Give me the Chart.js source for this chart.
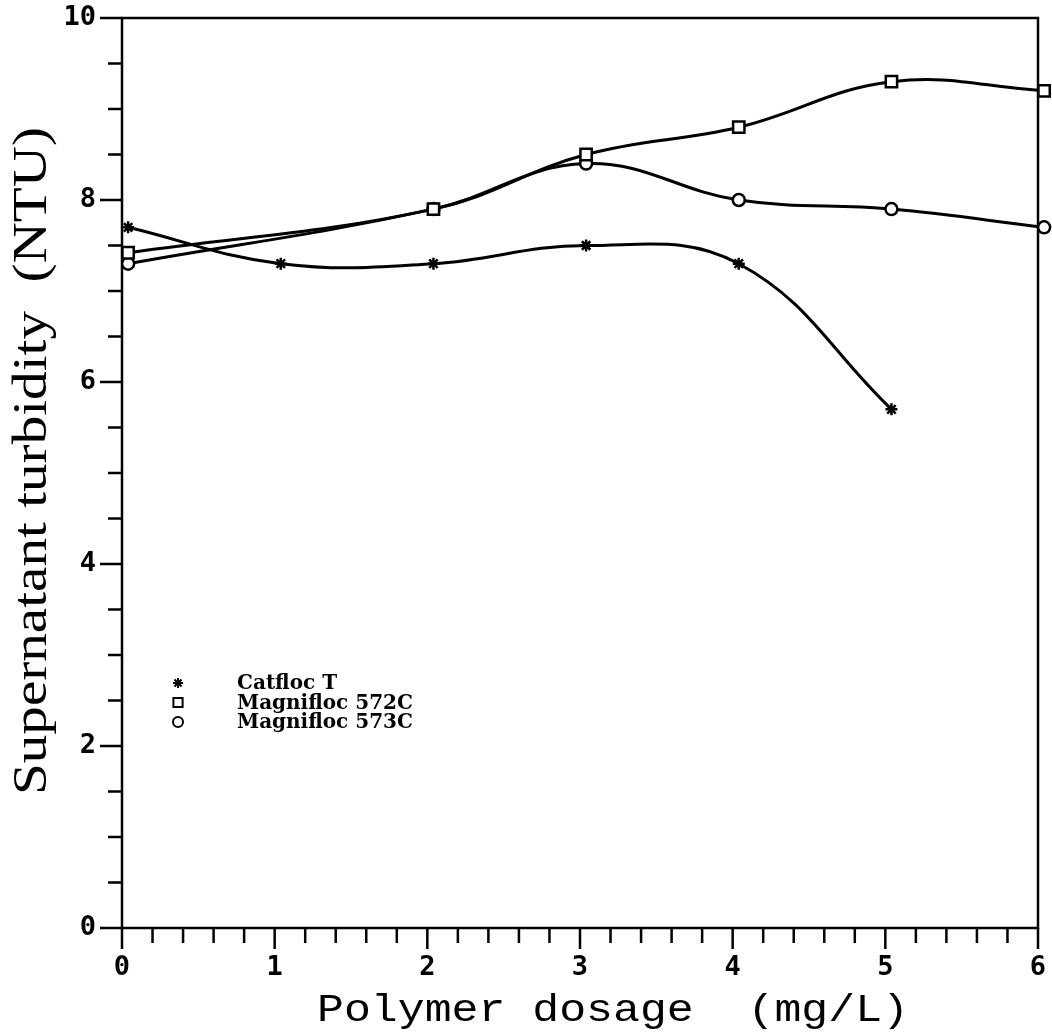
<!DOCTYPE html>
<html>
<head>
<meta charset="utf-8">
<script src="https://cdn.jsdelivr.net/npm/chart.js"></script>
<style>
  body { margin: 0; background: #fff; }
  canvas { display: block; }
</style>
</head>
<body>
<canvas id="myChart" width="1052" height="1034"></canvas>
<script>
  // values
  const catflocX = [0.04, 1.04, 2.04, 3.04, 4.04, 5.04];
  const catflocY = [7.7, 7.3, 7.3, 7.5, 7.3, 5.7];

  const mag572X = [0.04, 2.04, 3.04, 4.04, 5.04, 6.04];
  const mag572Y = [7.42, 7.9, 8.5, 8.8, 9.3, 9.2];

  const mag573X = [0.04, 2.04, 3.04, 4.04, 5.04, 6.04];
  const mag573Y = [7.3, 7.9, 8.4, 8.0, 7.9, 7.7];

  const seriesNames = ['Catfloc T', 'Magnifloc 572C', 'Magnifloc 573C'];
  const xTitle = 'Polymer dosage  (mg/L)';
  const yTitle = 'Supernatant turbidity  (NTU)';

  const toPoints = (xs, ys) => xs.map((x, i) => ({ x: x, y: ys[i] }));

  function series(label, pts, style, radius) {
    return {
      label: label,
      data: pts,
      borderColor: '#000',
      borderWidth: 3,
      pointStyle: style,
      pointRadius: radius,
      pointBorderWidth: 2.5,
      pointBorderColor: '#000',
      pointBackgroundColor: '#fff',
      tension: 0.4,
      clip: false,
      fill: false
    };
  }

  // frame, minor/major ticks, axis titles and the inset legend
  const decor = {
    id: 'decor',
    beforeDatasetsDraw(chart) {
      const ctx = chart.ctx;
      const a = chart.chartArea;
      const xs = chart.scales.x, ys = chart.scales.y;
      ctx.save();
      ctx.strokeStyle = '#000';
      ctx.lineWidth = 2.5;
      ctx.strokeRect(a.left, a.top, a.right - a.left, a.bottom - a.top);

      ctx.beginPath();
      for (let i = 0; i <= 30; i++) {
        const px = xs.getPixelForValue(i * 0.2);
        const len = (i % 5 === 0) ? 21 : 15;
        ctx.moveTo(px, a.bottom);
        ctx.lineTo(px, a.bottom + len);
      }
      for (let i = 0; i <= 20; i++) {
        const py = ys.getPixelForValue(i * 0.5);
        const len = (i % 4 === 0) ? 22 : 14;
        ctx.moveTo(a.left, py);
        ctx.lineTo(a.left - len, py);
      }
      ctx.stroke();

      // axis titles, stretched to the width they take in the scan
      ctx.fillStyle = '#000';
      ctx.textBaseline = 'alphabetic';
      ctx.textAlign = 'left';
      ctx.font = '38px "Liberation Mono"';
      let w = ctx.measureText(xTitle).width;
      ctx.save();
      ctx.translate(317, 1021);
      ctx.scale(592 / w, 1);
      ctx.fillText(xTitle, 0, 0);
      ctx.restore();

      ctx.font = '48px "Liberation Serif"';
      w = ctx.measureText(yTitle).width;
      ctx.save();
      ctx.translate(46, 795);
      ctx.rotate(-Math.PI / 2);
      ctx.scale(668 / w, 1);
      ctx.fillText(yTitle, 0, 0);
      ctx.restore();

      // legend
      ctx.font = 'bold 20px "DejaVu Serif"';
      ctx.textBaseline = 'middle';
      chart.data.datasets.forEach((ds, i) => {
        const y = 683 + i * 19.5;
        ctx.strokeStyle = '#000';
        ctx.fillStyle = '#fff';
        ctx.lineWidth = 2;
        Chart.helpers.drawPoint(ctx, {
          pointStyle: ds.pointStyle,
          radius: ds.pointStyle === 'rect' ? 6.5 : 5,
          rotation: 0,
          borderWidth: 2
        }, 178, y);
        ctx.fillStyle = '#000';
        ctx.fillText(ds.label, 237, y + 1);
      });
      ctx.restore();
    }
  };

  const tickFont = { family: '"DejaVu Sans Mono"', size: 27, weight: 'bold' };

  new Chart(document.getElementById('myChart').getContext('2d'), {
    type: 'line',
    data: {
      datasets: [
        series(seriesNames[0], toPoints(catflocX, catflocY), 'star', 6),
        series(seriesNames[1], toPoints(mag572X, mag572Y), 'rect', 8),
        series(seriesNames[2], toPoints(mag573X, mag573Y), 'circle', 6)
      ]
    },
    options: {
      responsive: false,
      animation: false,
      layout: { padding: { left: 0, top: 18, right: 14, bottom: 0 } },
      scales: {
        x: {
          type: 'linear',
          min: 0,
          max: 6,
          grid: { display: true, drawOnChartArea: false, drawTicks: true, tickLength: 24, tickColor: 'rgba(0,0,0,0)' },
          border: { display: false },
          ticks: { stepSize: 1, padding: 0, color: '#000', font: tickFont, maxRotation: 0 },
          afterFit(scale) { scale.height = 106; }
        },
        y: {
          min: 0,
          max: 10,
          grid: { display: true, drawOnChartArea: false, drawTicks: true, tickLength: 26, tickColor: 'rgba(0,0,0,0)' },
          border: { display: false },
          ticks: { stepSize: 2, padding: 0, color: '#000', font: tickFont },
          afterFit(scale) { scale.width = 122; }
        }
      },
      plugins: {
        legend: { display: false },
        tooltip: { enabled: false }
      }
    },
    plugins: [decor]
  });
</script>
</body>
</html>
